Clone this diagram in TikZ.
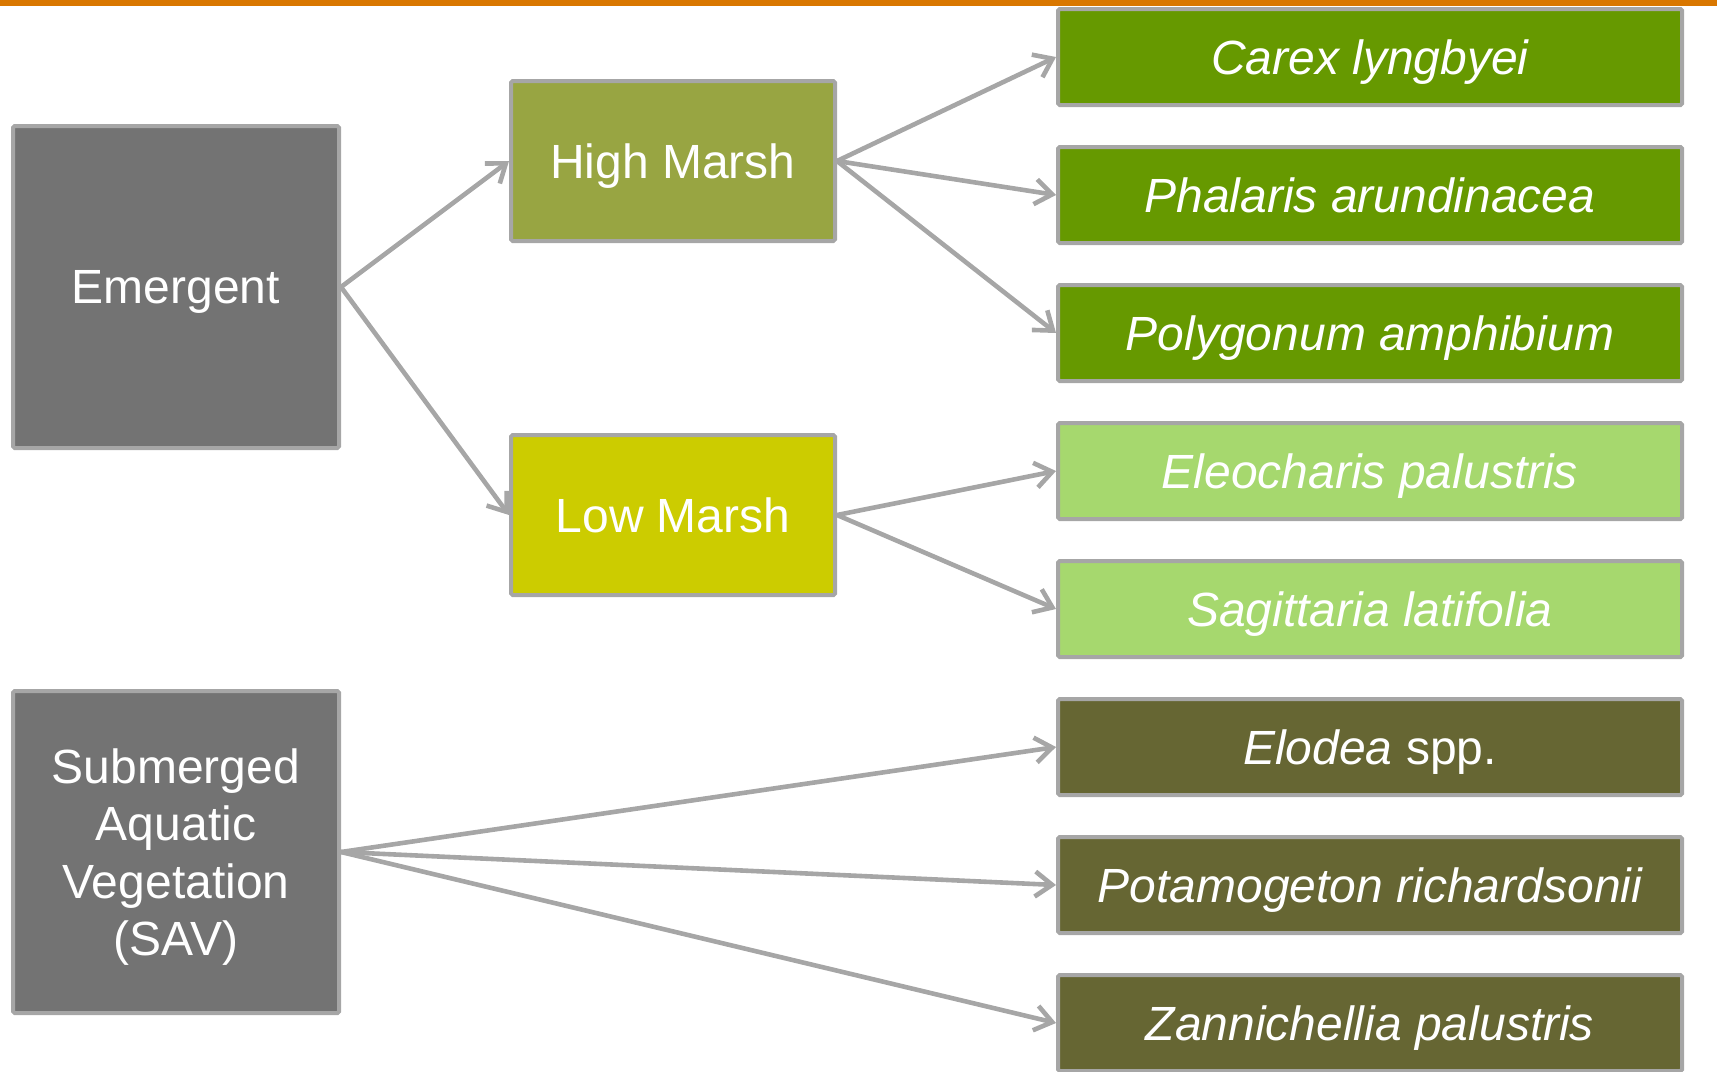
\documentclass[tikz,border=0pt]{standalone}
\usepackage{fontspec}
\setmainfont{Liberation Sans}
\usetikzlibrary{arrows.meta}

\definecolor{barorange}{RGB}{217,119,0}
\definecolor{boxline}{RGB}{166,166,166}
\definecolor{greybox}{RGB}{115,115,115}
\definecolor{highmarsh}{RGB}{152,165,66}
\definecolor{lowmarsh}{RGB}{204,204,0}
\definecolor{darkgreen}{RGB}{102,153,0}
\definecolor{lightgreen}{RGB}{166,216,110}
\definecolor{olive}{RGB}{102,102,51}

\begin{document}
\begin{tikzpicture}[x=0.5pt,y=-0.5pt,
	box/.style={draw=boxline, line width=2pt, rounded corners=0.8pt, text=white, align=center, inner sep=0pt, text depth=0pt, font=\fontsize{24}{28.7}\selectfont},
	groupbox/.style={box, fill=greybox, minimum width=163pt, minimum height=161pt},
	marshbox/.style={box, minimum width=162pt, minimum height=80pt},
	speciesbox/.style={box, minimum width=312pt, minimum height=48pt, font=\fontsize{24}{28.7}\selectfont\itshape},
	link/.style={draw=boxline, line width=2.3pt, -{Straight Barb[length=8.5pt,width=12.5pt]}}]
			\useasboundingbox (0,0) rectangle (1717,1071);
			\clip (0,0) rectangle (1717,1071);
			\fill[barorange] (0,0) rectangle (1717,6);
			% left column
			\node[groupbox] (emergent) at (176,287) {Emergent};
			\node[groupbox] (sav) at (176,852) {Submerged\\Aquatic\\Vegetation\\(SAV)};
			% middle column
			\node[marshbox, fill=highmarsh] (high) at (673,161) {High Marsh};
			\node[marshbox, fill=lowmarsh] (low) at (673,515) {Low Marsh};
			% species
			\node[speciesbox, fill=darkgreen] (carex) at (1370,57) {Carex lyngbyei};
			\node[speciesbox, fill=darkgreen] (phalaris) at (1370,195) {Phalaris arundinacea};
			\node[speciesbox, fill=darkgreen] (polygonum) at (1370,333) {Polygonum amphibium};
			\node[speciesbox, fill=lightgreen] (eleocharis) at (1370,471) {Eleocharis palustris};
			\node[speciesbox, fill=lightgreen] (sagittaria) at (1370,609) {Sagittaria latifolia};
			\node[speciesbox, fill=olive] (elodea) at (1370,747) {Elodea \upshape spp.};
			\node[speciesbox, fill=olive] (potamogeton) at (1370,885) {Potamogeton richardsonii};
			\node[speciesbox, fill=olive] (zannichellia) at (1370,1023) {Zannichellia palustris};
			% links
			\draw[link] (emergent.east) -- (high.west);
			\draw[link] (emergent.east) -- (low.west);
			\draw[link] (high.east) -- (carex.west);
			\draw[link] (high.east) -- (phalaris.west);
			\draw[link] (high.east) -- (polygonum.west);
			\draw[link] (low.east) -- (eleocharis.west);
			\draw[link] (low.east) -- (sagittaria.west);
			\draw[link] (sav.east) -- (elodea.west);
			\draw[link] (sav.east) -- (potamogeton.west);
			\draw[link] (sav.east) -- (zannichellia.west);
		\end{tikzpicture}
\end{document}
